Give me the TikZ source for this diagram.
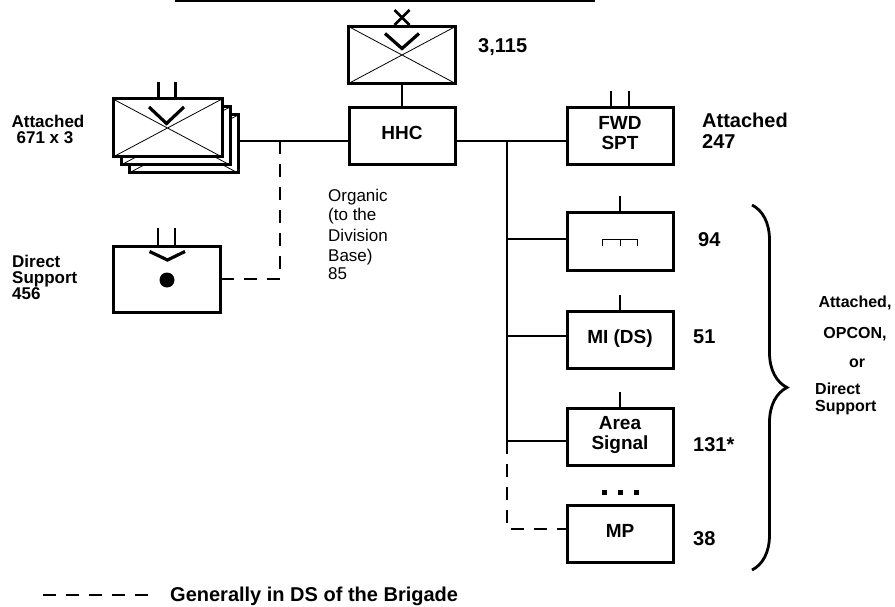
\documentclass[tikz,border=0pt]{standalone}
\usepackage{fontspec}
\setmainfont{Liberation Sans}
\usetikzlibrary{calc,decorations.pathreplacing}
\begin{document}
\begin{tikzpicture}[x=1pt,y=-1pt,
  unitbox/.style={draw, line width=3pt, minimum width=106pt, minimum height=57pt, inner sep=0pt, fill=white,
     font=\fontsize{19}{20}\selectfont\bfseries, align=center, text depth=7pt},
  xbox/.style={path picture={\draw[line width=0.8pt] (path picture bounding box.north west) -- (path picture bounding box.south east)
        (path picture bounding box.south west) -- (path picture bounding box.north east);}},
  conn/.style={line width=2.8pt},
  chev/.style={line width=3.2pt},
  thinsym/.style={line width=0.9pt},
  dsline/.style={line width=2.8pt, dash pattern=on 13pt off 10pt},
  bigtxt/.style={font=\fontsize{20}{20}\selectfont\bfseries, inner sep=0pt, anchor=base west},
  smtxt/.style={font=\fontsize{17}{17}\selectfont\bfseries, inner sep=0pt, text height=12pt, text depth=0pt},
  orgtxt/.style={font=\fontsize{17}{17}\selectfont, inner sep=0pt, anchor=base west, text height=12pt, text depth=3pt},
  brtxt/.style={font=\fontsize{16}{16}\selectfont\bfseries, inner sep=0pt, text height=11.5pt, text depth=0pt},
]
\useasboundingbox (0,0) rectangle (895,607);

% title underline (cut off title)
\draw[line width=2.8pt] (175,1) -- (595,1);

% brigade symbol
\node[unitbox, xbox, minimum width=107pt] (bde) at (402,55) {};
\draw[conn] ($(bde.north)+(-7.5,-15)$) -- ($(bde.north)+(7.5,0)$);
\draw[conn] ($(bde.north)+(7.5,-15)$) -- ($(bde.north)+(-7.5,0)$);
\draw[chev] ($(bde.north)+(-17,8.5)$) -- ($(bde.north)+(0,23.5)$) -- ($(bde.north)+(17,8.5)$);
\node[bigtxt] (t3115) at (478,53) {3,115};

% HHC
\node[unitbox] (hhc) at (402,136.5) {HHC};
\draw[conn] (bde.south) -- (hhc.north);

% stacked battalions
\node[unitbox, xbox, minimum width=109pt, minimum height=58pt] (stackC) at (183.5,144) {};
\node[unitbox, xbox, minimum width=109pt, minimum height=58pt] (stackB) at (175.5,136) {};
\node[unitbox, xbox, minimum width=109pt, minimum height=58pt] (stackA) at (167.5,128) {};
\draw[conn] ($(stackA.north)+(-9,0)$) -- ++(0,-15);
\draw[conn] ($(stackA.north)+(8,0)$) -- ++(0,-15);
\draw[chev] ($(stackA.north)+(-18.5,9.5)$) -- ($(stackA.north)+(-1,26)$) -- ($(stackA.north)+(16.5,9.5)$);
\node[smtxt, anchor=base] (att1) at (48,128) {Attached};
\node[smtxt, anchor=base] (att2) at (45,144) {671 x 3};

% direct support battalion
\node[unitbox, minimum width=107pt, minimum height=66pt] (ds) at (166.5,279) {};
\draw[conn] ($(ds.north)+(-8.5,0)$) -- ++(0,-16);
\draw[conn] ($(ds.north)+(8.5,0)$) -- ++(0,-16);
\draw[chev] ($(ds.north)+(-17,7)$) -- ($(ds.north)+(1,15.5)$) -- ($(ds.north)+(18.5,7)$);
\fill ($(ds.center)+(0.5,1)$) circle (7.5);
\node[smtxt, anchor=base west] (ds1) at (12,267) {Direct};
\node[smtxt, anchor=base west, text depth=2.5pt] (ds2) at (12,283) {Support};
\node[smtxt, anchor=base west] (ds3) at (12,299) {456};

% organic label
\node[orgtxt] (og1) at (328,202) {Organic};
\node[orgtxt] (og2) at (328,221) {(to the};
\node[orgtxt] (og3) at (328,241) {Division};
\node[orgtxt] (og4) at (328,261) {Base)};
\node[orgtxt] (og5) at (328,279) {85};

% right column boxes
\node[unitbox] (fwd) at (620,136.5) {FWD\\SPT};
\draw[conn] ($(fwd.north)+(-9,0)$) -- ++(0,-15);
\draw[conn] ($(fwd.north)+(9,0)$) -- ++(0,-15);
\node[bigtxt] (fa1) at (702,128) {Attached};
\node[bigtxt] (fa2) at (702,149) {247};

\node[unitbox] (s94) at (620,241.5) {};
\draw[conn] (s94.north) -- ++(0,-15);
\draw[thinsym] ($(s94.center)+(-17.5,4.5)$) -- ++(0,-6.7) -- ++(35,0) -- ++(0,6.7);
\draw[thinsym] ($(s94.center)+(0,-2.2)$) -- ++(0,6.7);
\node[bigtxt] (n94) at (698,247) {94};

\node[unitbox] (mi) at (620,340) {MI (DS)};
\draw[conn] (mi.north) -- ++(0,-15);
\node[bigtxt] (n51) at (693,343) {51};

\node[unitbox] (area) at (620,436.5) {Area\\Signal};
\draw[conn] (area.north) -- ++(0,-15);
\node[bigtxt] (n131) at (693,451) {131*};

\fill (601.5,489.5) rectangle ++(5.5,5.5);
\fill (617.5,489.5) rectangle ++(5.5,5.5);
\fill (633.5,489.5) rectangle ++(5.5,5.5);

\node[unitbox] (mp) at (620,534) {MP};
\node[bigtxt] (n38) at (693,545) {38};

% connectors
\coordinate (jl) at (280,141);
\coordinate (jr) at (507,141);
\coordinate (j94) at (507,239);
\coordinate (jmi) at (507,336);
\coordinate (jar) at (507,441);
\coordinate (jmp) at (507,529);
\coordinate (jds) at (280,279);
\draw[conn] (stackC.east |- jl) -- (jl) -- (jl -| hhc.west);
\draw[conn] (hhc.east |- jr) -- (jr) -- (jr -| fwd.west);
\draw[conn] (jr) -- (jar);
\draw[conn] (j94) -- (j94 -| s94.west);
\draw[conn] (jmi) -- (jmi -| mi.west);
\draw[conn] (jar) -- (jar -| area.west);
\draw[dsline] (jar) -- (jmp) -- (jmp -| mp.west);
\draw[dsline] (jl) -- (jds) -- (ds.east);

% brace
\coordinate (brt) at (752,205);
\coordinate (brb) at (752,570);
\draw[line width=2.8pt, decorate, decoration={brace, amplitude=35pt}] (brt) -- (brb);
\node[brtxt, anchor=base] (b1) at (855,307) {Attached,};
\node[brtxt, anchor=base] (b2) at (855,338) {OPCON,};
\node[brtxt, anchor=base] (b3) at (857,367) {or};
\node[brtxt, anchor=base west] (b4) at (815,394) {Direct};
\node[brtxt, anchor=base west, text depth=2pt] (b5) at (815,411) {Support};

% legend
\coordinate (lg1) at (43,595);
\coordinate (lg2) at (148,595);
\draw[dsline] (lg1) -- (lg2);
\node[bigtxt] (lgt) at (170,601) {Generally in DS of the Brigade};
\end{tikzpicture}
\end{document}
